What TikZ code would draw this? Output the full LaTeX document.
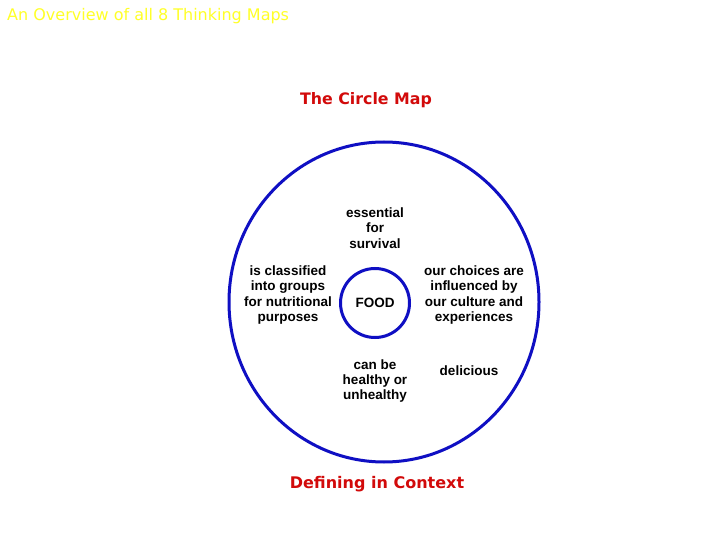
\documentclass[tikz,border=0pt]{standalone}
\usepackage{fontspec}
\usetikzlibrary{shapes.geometric}
\setmainfont{Liberation Sans}
\newfontfamily\titlefont{DejaVu Sans}
\definecolor{mapblue}{RGB}{15,15,195}
\definecolor{mapred}{RGB}{210,10,10}
\definecolor{mapyellow}{RGB}{255,255,40}
\begin{document}
\begin{tikzpicture}[x=1pt,y=-1pt,
  body/.style={font=\fontsize{13.5}{15.3}\selectfont\bfseries, align=center, inner sep=0pt},
  ring/.style={draw=mapblue, line width=3pt},
  heading/.style={text=mapred, inner sep=0pt, font=\titlefont\fontsize{16}{19}\selectfont\bfseries}]
\useasboundingbox (0,0) rectangle (720,540);
\fill[white] (0,0) rectangle (720,540);
\node[anchor=west, text=mapyellow, inner sep=0pt, font=\titlefont\fontsize{16}{18}\selectfont] (title) at (7,16) {An Overview of all 8 Thinking Maps};
\node[heading, font=\titlefont\fontsize{15.8}{19}\selectfont\bfseries] (maptitle) at (366,100) {The Circle Map};
\node[ring, ellipse, minimum width=310pt, minimum height=320pt, inner sep=0pt] (outer) at (384,302) {};
\node[ring, circle, minimum size=69pt, inner sep=0pt] (inner) at (375,303) {};
\node[body] (food) at (375,303) {FOOD};
\node[body] (top) at (375,228) {essential\\for\\survival};
\node[body] (left) at (288,295) {is classified\\into groups\\for nutritional\\purposes};
\node[body] (right) at (474,295) {our choices are\\influenced by\\our culture and\\experiences};
\node[body] (bottom) at (375,381) {can be\\healthy or\\unhealthy};
\node[body] (del) at (469,371) {delicious};
\node[heading] (ctx) at (377,484) {Defining in Context};
\end{tikzpicture}
\end{document}
